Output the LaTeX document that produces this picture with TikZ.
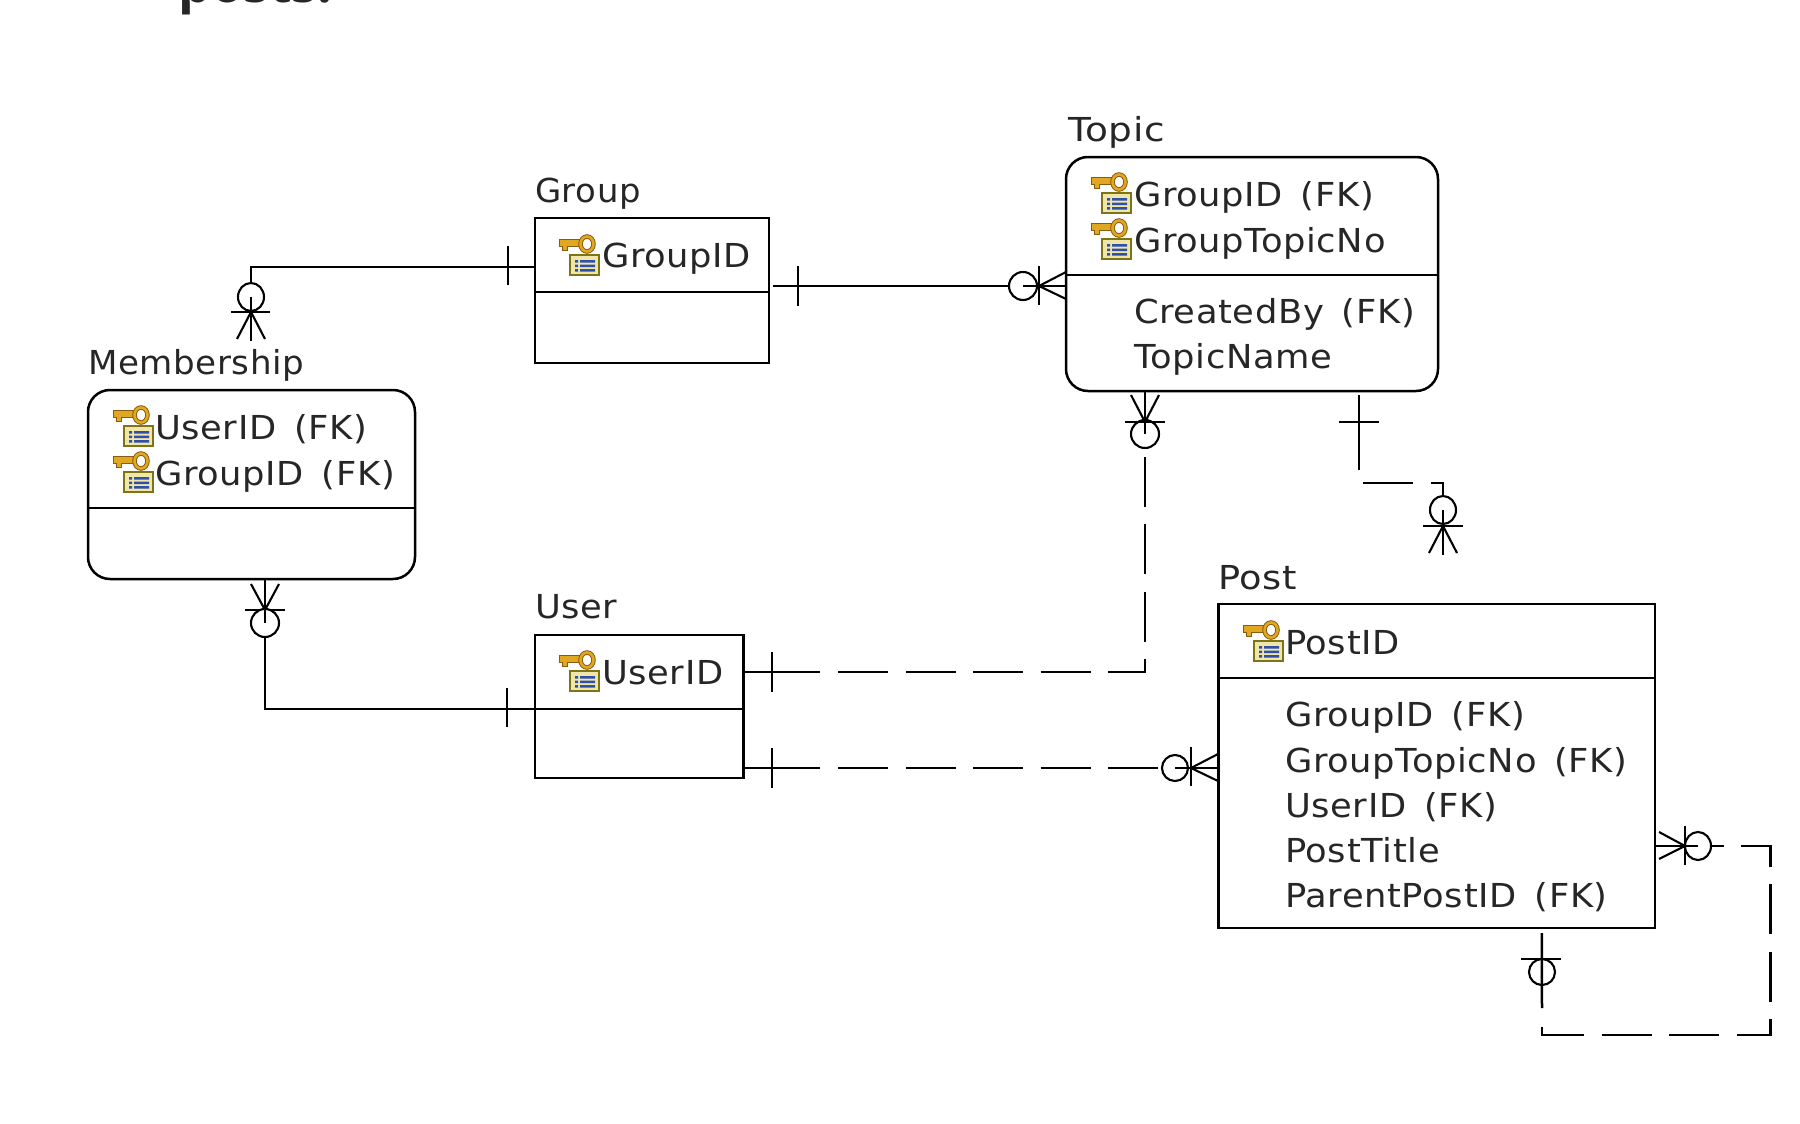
\documentclass[tikz,border=0pt]{standalone}
\usepackage{fontspec}
\setmainfont[FakeStretch=1.07,LetterSpace=2,WordSpace=1.5]{DejaVu Sans}
\newfontfamily\headfont{Open Sans}
\definecolor{keygold}{HTML}{E0A820}
\definecolor{keydark}{HTML}{8A5A10}
\definecolor{tabgold}{HTML}{EFE6A8}
\definecolor{tabedge}{HTML}{7D7418}
\definecolor{tabblue}{HTML}{2F4FA8}
\tikzset{
  x=1pt,y=-1pt,
  line/.style={line width=2.5pt,black},
  thinl/.style={line width=2.1pt,black},
  circl/.style={line width=2.1pt,black,fill=white},
  entity/.style={draw,line width=2.5pt,black,rectangle,inner sep=0pt,outer sep=0pt},
  roundent/.style={entity,rounded corners=22pt},
  dashline/.style={line width=2.5pt,black,dash pattern=on 50pt off 17.5pt},
  txt/.style={anchor=base west,inner sep=0pt,outer sep=0pt,text=black!85,font=\fontsize{33}{33}\selectfont},
  title/.style={txt},
  icon/.pic={
    \draw[keydark,line width=1pt,fill=keygold] (0,4) -- (21,4) -- (21,11) -- (8,11) -- (8,15) -- (3,15) -- (3,11) -- (0,11) -- cycle;
    \draw[keydark,line width=4.5pt] (28,9) ellipse (6.5pt and 7.5pt);
    \draw[keygold,line width=2.6pt] (28,9) ellipse (6.5pt and 7.5pt);
    \draw[tabedge,line width=2.4pt,fill=tabgold] (11,20) rectangle (40,40);
    \fill[tabblue] (16,25) rectangle (19,27.5) (21,25) rectangle (36,27.5)
                   (16,29.5) rectangle (19,32) (21,29.5) rectangle (36,32)
                   (16,34) rectangle (19,36.5) (21,34) rectangle (36,36.5);
  }
}
\begin{document}
\begin{tikzpicture}
\useasboundingbox (0,0) rectangle (1800,1124);
\clip (0,0) rectangle (1800,1124);
\node[anchor=base west,inner sep=0pt,text=black!85,font=\headfont\bfseries\fontsize{52}{52}\selectfont] (caption) at (178,3) {posts.};

% entities
\node[entity,minimum width=234pt,minimum height=145pt] (group) at (652,290.5) {};
\node[roundent,minimum width=372pt,minimum height=234pt] (topic) at (1252,274) {};
\node[roundent,minimum width=327pt,minimum height=189pt] (member) at (251.5,484.5) {};
\node[entity,minimum width=208.5pt,minimum height=143pt] (user) at (639.25,706.5) {};
\node[entity,minimum width=436.5pt,minimum height=324pt] (post) at (1436.75,766) {};

% separators
\draw[line] (group.west |- 0,292) -- (group.east |- 0,292);
\draw[line] (topic.west |- 0,275) -- (topic.east |- 0,275);
\draw[line] (member.west |- 0,508) -- (member.east |- 0,508);
\draw[line] (user.west |- 0,709) -- (user.east |- 0,709);
\draw[line] (post.west |- 0,678) -- (post.east |- 0,678);

% titles
\node[title,transform shape,xscale=.96] (tgroup) at (535,202) {Group};
\node[title,transform shape,xscale=1.06] (ttopic) at (1068,141) {Topic};
\node[title,transform shape,xscale=.965] (tmember) at (88,374) {Membership};
\node[title] (tuser) at (535,618) {User};
\node[title,transform shape,xscale=1.04] (tpost) at (1218,589) {Post};

% attributes
\node[txt] (a1) at (602,267) {GroupID};
\node[txt] (a2) at (1134,206) {GroupID (FK)};
\node[txt] (a3) at (1134,252) {GroupTopicNo};
\node[txt] (a4) at (1134,323) {CreatedBy (FK)};
\node[txt] (a5) at (1134,368) {TopicName};
\node[txt] (a6) at (155,439) {UserID (FK)};
\node[txt] (a7) at (155,485) {GroupID (FK)};
\node[txt] (a8) at (602,684) {UserID};
\node[txt] (a9) at (1285,654) {PostID};
\node[txt] (a10) at (1285,726) {GroupID (FK)};
\node[txt] (a11) at (1285,772) {GroupTopicNo (FK)};
\node[txt] (a12) at (1285,817) {UserID (FK)};
\node[txt] (a13) at (1285,862) {PostTitle};
\node[txt] (a14) at (1285,907) {ParentPostID (FK)};

% key icons
\pic at (559,235) {icon};
\pic at (1091,173) {icon};
\pic at (1091,219) {icon};
\pic at (113,406) {icon};
\pic at (113,452) {icon};
\pic at (559,651) {icon};
\pic at (1243,621) {icon};

% connector: Group - Membership (solid)
\coordinate (gmend) at (251,341);
\draw[line] ([yshift=23.5pt]group.west) -| (gmend);
\draw[thinl] (508,246) -- (508,285);
\draw[circl] (251,297) ellipse (13pt and 14pt);
\draw[line] (251,297) -- (gmend);
\draw[thinl] (231,312) -- (270,312);
\draw[thinl] (237,339) -- (251,312) -- (265,339);

% connector: Group - Topic (solid)
\coordinate (gtstart) at (773,286);
\draw[line] (gtstart) -- ([yshift=-12pt]topic.west);
\draw[thinl] (798,266) -- (798,306);
\draw[circl] (1023,286) circle (14pt);
\draw[line] (1023,286) -- ([yshift=-12pt]topic.west);
\draw[thinl] (1039,266) -- (1039,305);
\draw[thinl] (1066,272) -- (1039,286) -- (1066,299);

% connector: Membership - User (solid)
\draw[line] ([xshift=13.5pt]member.south) |- ([yshift=-2.5pt]user.west);
\draw[thinl] (507,688) -- (507,727);
\draw[thinl] (251,584) -- (265,610) -- (279,584);
\draw[thinl] (245,610) -- (285,610);
\draw[circl] (265,623) circle (14pt);
\draw[line] ([xshift=13.5pt]member.south) -- (265,623);

% connector: User - Topic (dashed)
\coordinate (utbreak) at (838,672);
\coordinate (utcorner) at (1145,672);
\coordinate (utend) at (1145,448);
\draw[line] ([yshift=34.5pt]user.east) -- (820,672);
\draw[dashline] (utbreak) -- (utcorner) -- (utend);
\draw[thinl] (772,652) -- (772,692);
\draw[circl] (1145,434) circle (14pt);
\draw[line] ([xshift=-107pt]topic.south) -- (1145,434);
\draw[thinl] (1131,395) -- (1145,422) -- (1159,395);
\draw[thinl] (1125,422) -- (1165,422);

% connector: Topic - Post (dashed)
\coordinate (tpstub) at (1359,470);
\coordinate (tpa) at (1363,483);
\coordinate (tpb) at (1443,483);
\coordinate (tpc) at (1443,497);
\draw[line] ([xshift=107pt,yshift=-4pt]topic.south) -- (tpstub);
\draw[dashline] (tpa) -- (tpb) -- (tpc);
\draw[circl] (1443,510) ellipse (13pt and 14pt);
\draw[line] (1443,510) -- (1443,555);
\draw[thinl] (1339,422) -- (1379,422);
\draw[thinl] (1423,526) -- (1463,526);
\draw[thinl] (1429,553) -- (1443,526) -- (1457,553);

% connector: User - Post (dashed)
\draw[line] ([yshift=-61.5pt]user.east) -- (820,768);
\coordinate (upa) at (838,768);
\coordinate (upb) at (1158,768);
\draw[dashline] (upa) -- (upb);
\draw[thinl] (772,748) -- (772,788);
\draw[circl] (1175,768) circle (13pt);
\draw[line] (1175,768) -- ([yshift=-2pt]post.west);
\draw[thinl] (1191,747) -- (1191,786);
\draw[thinl] (1218,754) -- (1191,768) -- (1218,781);

% connector: Post - Post (self, dashed)
\coordinate (ppa) at (1741,846);
\coordinate (ppb) at (1770.5,846);
\coordinate (ppc) at (1770.5,1035);
\coordinate (ppd) at (1542,1035);
\coordinate (ppe) at (1542,1027);
\draw[line] ([yshift=-80pt]post.east) -- (1724,846);
\draw[circl] (1698,846) ellipse (13pt and 14pt);
\draw[line] ([yshift=-80pt]post.east) -- (1698,846);
\draw[line] (1711,846) -- (1724,846);
\draw[dashline] (ppa) -- (ppb) -- (ppc) -- (ppd) -- (ppe);
\draw[thinl] (1659,832) -- (1685,846) -- (1659,859);
\draw[thinl] (1685,826) -- (1685,865);
\draw[line] ([xshift=105pt,yshift=-5pt]post.south) -- (1542,1008);
\draw[thinl] (1521,959) -- (1561,959);
\draw[thinl] (1542,972) ellipse (13pt and 13pt);
\end{tikzpicture}
\end{document}
